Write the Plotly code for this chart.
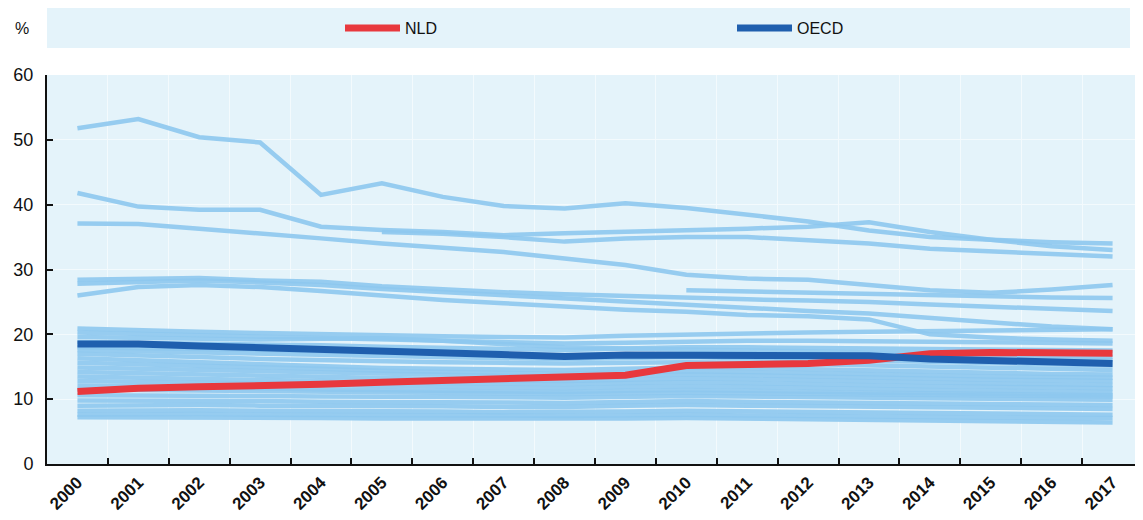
import plotly.graph_objects as go

years = [str(y) for y in range(2000, 2018)]

nld = [11.2, 11.7, 11.9, 12.0, 12.3, 12.6, 12.9, 13.3, 13.5, 13.7, 15.2, 15.3, 15.5, 16.0, 17.0, 17.2, 17.2, 17.1]
oecd = [18.5, 18.5, 18.2, 17.9, 17.6, 17.3, 17.1, 16.8, 16.6, 16.8, 16.8, 16.6, 16.6, 16.7, 16.2, 15.9, 15.6, 15.5]

# Other OECD countries (unlabelled light-blue lines)
c01 = [51.8, 53.2, 50.4, 49.6, 41.5, 43.3, 41.2, 39.8, 39.4, 40.2, 39.5, 38.5, 37.4, 36.0, 35.0, 34.6, 34.2, 34.0]
c02 = [41.8, 39.7, 39.2, 39.2, 36.6, 36.1, 35.8, 35.3, 35.6, 35.8, 36.0, 36.3, 36.6, 37.3, 35.8, 34.6, 33.6, 33.0]
c03 = [37.1, 37.0, 36.3, 35.6, 34.8, 34.0, 33.3, 32.7, 31.7, 30.7, 29.2, 28.6, 28.4, 27.6, 26.8, 26.4, 26.9, 27.6]
c04 = [None, None, None, None, None, 35.8, 35.5, 35.0, 34.3, 34.8, 35.0, 35.0, 34.5, 34.0, 33.2, 32.8, 32.3, 32.0]
c05 = [28.4, 28.6, 28.7, 28.3, 28.1, 27.4, 26.9, 26.5, 26.2, 25.9, 25.7, 25.4, 25.2, 25.0, 24.6, 24.3, 24.0, 23.6]
c06 = [27.8, 28.1, 28.3, 28.0, 27.6, 27.0, 26.5, 26.0, 25.5, 25.0, 24.6, 24.0, 23.6, 23.2, 22.5, 21.8, 21.2, 20.8]
c07 = [26.0, 27.3, 27.6, 27.3, 26.7, 26.0, 25.3, 24.8, 24.3, 23.8, 23.5, 23.0, 22.8, 22.3, 20.0, 19.5, 19.2, 19.0]
c08 = [None, None, None, None, None, None, None, None, None, None, 26.8, 26.6, 26.4, 26.2, 26.0, 25.8, 25.7, 25.6]
c09 = [20.9, 20.6, 20.4, 20.2, 20.0, 19.8, 19.7, 19.6, 19.5, 19.8, 20.0, 20.2, 20.3, 20.4, 20.5, 20.6, 20.7, 20.8]
c10 = [20.3, 20.1, 19.9, 19.7, 19.5, 19.2, 19.0, 18.8, 18.6, 18.7, 18.9, 19.0, 19.0, 18.9, 18.8, 18.7, 18.7, 18.6]
c11 = [19.6, 19.5, 19.3, 19.2, 19.3, 19.4, 19.0, 18.5, 18.0, 17.8, 17.6, 17.5, 17.4, 17.2, 17.0, 16.8, 16.6, 16.5]
c12 = [18.8, 18.7, 18.6, 18.5, 18.3, 18.1, 17.9, 17.7, 17.6, 17.8, 18.0, 18.0, 17.9, 17.8, 17.7, 17.6, 17.5, 17.5]
c13 = [18.0, 17.9, 17.8, 17.6, 17.4, 17.2, 17.0, 16.9, 16.8, 16.9, 17.0, 16.9, 16.8, 16.6, 16.5, 16.3, 16.2, 16.0]
c14 = [17.6, 17.4, 17.2, 17.0, 16.8, 16.6, 16.4, 16.3, 16.2, 16.4, 16.5, 16.3, 16.1, 15.9, 15.8, 15.6, 15.4, 15.2]
c15 = [17.0, 16.8, 16.5, 16.2, 16.0, 15.8, 15.7, 15.6, 15.5, 15.6, 15.7, 15.6, 15.4, 15.2, 15.0, 14.8, 14.6, 14.5]
c16 = [16.3, 16.0, 15.6, 15.3, 15.0, 14.8, 14.7, 14.6, 14.5, 14.7, 14.9, 14.8, 14.6, 14.4, 14.2, 14.0, 13.9, 13.8]
c17 = [15.6, 15.4, 15.2, 15.0, 14.7, 14.4, 14.2, 14.0, 13.9, 14.1, 14.3, 14.2, 14.0, 13.8, 13.6, 13.5, 13.4, 13.3]
c18 = [14.9, 14.7, 14.5, 14.3, 14.1, 13.9, 13.7, 13.5, 13.4, 13.6, 13.8, 13.7, 13.5, 13.3, 13.1, 13.0, 12.9, 12.8]
c19 = [14.2, 14.0, 13.8, 13.6, 13.4, 13.2, 13.0, 12.9, 12.8, 13.0, 13.2, 13.1, 12.9, 12.7, 12.5, 12.4, 12.3, 12.2]
c20 = [13.5, 13.3, 13.2, 13.0, 12.8, 12.6, 12.5, 12.4, 12.3, 12.5, 12.6, 12.5, 12.3, 12.1, 12.0, 11.9, 11.8, 11.7]
c21 = [12.8, 12.7, 12.6, 12.4, 12.2, 12.0, 11.9, 11.8, 11.7, 11.9, 12.0, 11.9, 11.7, 11.5, 11.4, 11.3, 11.2, 11.1]
c22 = [12.1, 12.0, 11.9, 11.7, 11.5, 11.4, 11.3, 11.2, 11.1, 11.3, 11.4, 11.3, 11.1, 11.0, 10.9, 10.8, 10.7, 10.6]
c23 = [11.5, 11.4, 11.3, 11.2, 11.1, 11.0, 10.9, 10.8, 10.8, 10.9, 11.0, 10.9, 10.8, 10.7, 10.6, 10.5, 10.5, 10.4]
c24 = [10.6, 10.6, 10.5, 10.5, 10.4, 10.4, 10.3, 10.3, 10.2, 10.4, 10.5, 10.4, 10.3, 10.2, 10.1, 10.0, 9.9, 9.9]
c25 = [9.8, 9.8, 9.7, 9.7, 9.6, 9.6, 9.5, 9.5, 9.4, 9.6, 9.7, 9.6, 9.5, 9.4, 9.3, 9.2, 9.2, 9.1]
c26 = [9.0, 9.1, 9.1, 9.0, 9.0, 8.9, 8.9, 8.8, 8.8, 9.0, 9.1, 9.0, 8.9, 8.8, 8.7, 8.6, 8.6, 8.5]
c27 = [8.2, 8.3, 8.3, 8.2, 8.2, 8.1, 8.1, 8.0, 8.0, 8.1, 8.2, 8.1, 8.0, 7.9, 7.8, 7.7, 7.7, 7.6]
c28 = [7.6, 7.7, 7.7, 7.6, 7.6, 7.5, 7.5, 7.5, 7.4, 7.5, 7.6, 7.5, 7.4, 7.3, 7.2, 7.2, 7.1, 7.1]
c29 = [7.2, 7.2, 7.1, 7.1, 7.1, 7.0, 7.0, 7.0, 6.9, 7.0, 7.1, 7.0, 6.9, 6.8, 6.7, 6.6, 6.5, 6.4]

others = [c01, c02, c03, c04, c05, c06, c07, c08, c09, c10, c11, c12, c13, c14, c15,
          c16, c17, c18, c19, c20, c21, c22, c23, c24, c25, c26, c27, c28, c29]

FONT = "Liberation Sans, Arial, sans-serif"
LIGHT = "#8ec8ef"
BG = "#e4f3fa"

fig = go.Figure()
xs = list(range(len(years)))
for s in others:
    fig.add_trace(go.Scatter(x=xs, y=s, mode="lines", line=dict(color=LIGHT, width=4.5),
                             opacity=0.9, showlegend=False, hoverinfo="skip", connectgaps=False))

fig.add_trace(go.Scatter(x=xs, y=nld, mode="lines", name="NLD",
                         line=dict(color="#e8383d", width=7)))
fig.add_trace(go.Scatter(x=xs, y=oecd, mode="lines", name="OECD",
                         line=dict(color="#1f5fae", width=7)))

# The page has an 8px body margin: compensate so the plot lands where the reference has it
OFF = 8
W, H = 1143, 520
L = 47 - OFF
T = 75 - OFF
R = W - (1143 - OFF)
B = H - (464 - OFF)
pw = W - L - R
ph = H - T - B

def px_x(p):
    return (p - OFF - L) / pw

def px_y(p):
    return 1 + (T - (p - OFF)) / ph

fig.update_layout(
    width=W, height=H,
    margin=dict(l=L, r=R, t=T, b=B, autoexpand=False),
    paper_bgcolor="white",
    plot_bgcolor=BG,
    font=dict(family=FONT, color="#1a1a1a"),
    showlegend=True,
    legend=dict(orientation="h", x=px_x(340), xanchor="left", y=px_y(28), yanchor="middle",
                bgcolor="rgba(0,0,0,0)", font=dict(size=16, family=FONT, color="#111"),
                itemwidth=55, entrywidth=322, entrywidthmode="pixels", traceorder="normal"),
    xaxis=dict(range=[-0.5, 17.5], tickmode="array", tickvals=xs, ticktext=years,
               tickangle=-45, ticks="", showgrid=False, zeroline=False, automargin=False,
               showline=True, linecolor="#111", linewidth=2,
               tickfont=dict(size=17, family=FONT, weight="bold", color="#111"),
               minor=dict(tickmode="array", tickvals=[i + 0.5 for i in range(17)],
                          ticks="inside", ticklen=6, tickwidth=2, tickcolor="#111",
                          showgrid=True, gridcolor="#f3fafd", gridwidth=1)),
    yaxis=dict(range=[0, 60], dtick=10, ticks="inside", ticklen=6, tickwidth=2,
               tickcolor="#111", showline=True, linecolor="#111", linewidth=2,
               showgrid=True, gridcolor="#f3fafd", gridwidth=1, zeroline=False,
               ticklabelstandoff=8, automargin=False,
               tickfont=dict(size=18, family=FONT, color="#111")),
    shapes=[dict(type="rect", xref="paper", yref="paper", x0=0, x1=px_x(1130),
                 y0=px_y(48), y1=px_y(8), fillcolor=BG, line=dict(width=0), layer="below")],
    annotations=[dict(text="%", xref="paper", yref="paper", x=px_x(22), y=px_y(28),
                      xanchor="center", yanchor="middle", showarrow=False,
                      font=dict(size=16, family=FONT, color="#111"))],
)

fig.write_html("out.html")
